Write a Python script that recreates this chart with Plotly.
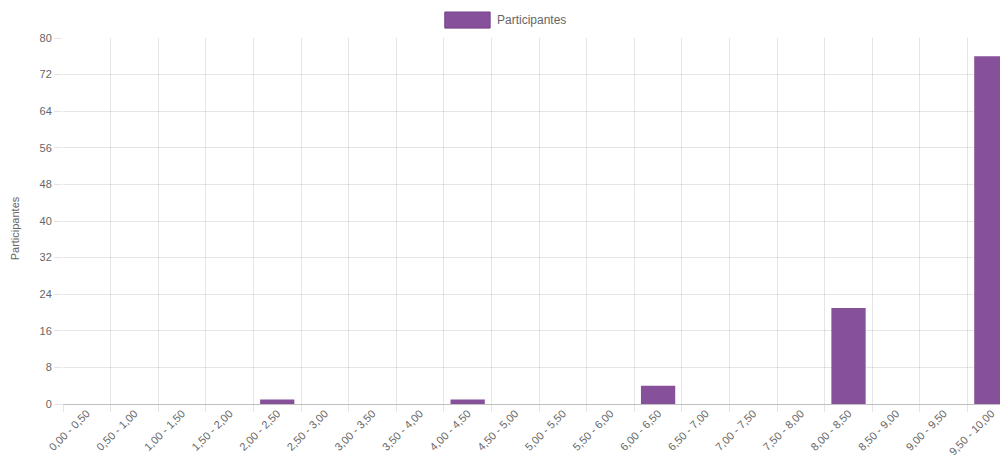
import plotly.graph_objects as go

categorias = [
    "0,00 - 0,50", "0,50 - 1,00", "1,00 - 1,50", "1,50 - 2,00", "2,00 - 2,50",
    "2,50 - 3,00", "3,00 - 3,50", "3,50 - 4,00", "4,00 - 4,50", "4,50 - 5,00",
    "5,00 - 5,50", "5,50 - 6,00", "6,00 - 6,50", "6,50 - 7,00", "7,00 - 7,50",
    "7,50 - 8,00", "8,00 - 8,50", "8,50 - 9,00", "9,00 - 9,50", "9,50 - 10,00",
]
participantes = [0, 0, 0, 0, 1, 0, 0, 0, 1, 0, 0, 0, 4, 0, 0, 0, 21, 0, 0, 76]
y_ticks = [0, 8, 16, 24, 32, 40, 48, 56, 64, 72, 80]

fill = "rgb(134,80,154)"
border = "rgb(118,64,138)"
grey = "#666666"
font = "Liberation Sans, Arial, sans-serif"

fig = go.Figure()
fig.add_trace(go.Bar(
    x=categorias,
    y=participantes,
    name="Participantes",
    marker=dict(color=fill, line=dict(color=border, width=0)),
    width=0.72,
))

# legenda estilo Chart.js
fig.add_shape(
    type="rect", xref="paper", yref="paper",
    x0=0.404, x1=0.452, y0=1.027, y1=1.071,
    fillcolor=fill, line=dict(color=border, width=1),
)
fig.add_annotation(
    text="Participantes", xref="paper", yref="paper",
    x=0.457, y=1.049, xanchor="left", yanchor="middle",
    showarrow=False, font=dict(size=12, color=grey, family=font),
)
# titulo do eixo y
fig.add_annotation(
    text="Participantes", xref="paper", yref="paper",
    x=0, y=0.48, xshift=-48, xanchor="center", yanchor="middle",
    textangle=-90, showarrow=False,
    font=dict(size=11, color=grey, family=font),
)

# a página tem 8px de margem no body
fig.update_layout(
    width=1000, height=462,
    margin=dict(l=55, r=0, t=30, b=66),
    paper_bgcolor="white", plot_bgcolor="white",
    showlegend=False,
    font=dict(family=font, size=10, color=grey),
)
fig.update_xaxes(
    type="category",
    range=[-0.5, 19.35],
    tickangle=-45,
    tickson="boundaries",
    showgrid=True, gridcolor="rgba(0,0,0,0.1)",
    ticks="outside", ticklen=7, tickcolor="rgba(0,0,0,0.1)",
    tickfont=dict(size=11, color=grey),
    showline=False,
)
fig.update_yaxes(
    range=[0, 80],
    tickvals=y_ticks,
    showgrid=True, gridcolor="rgba(0,0,0,0.1)",
    zeroline=True, zerolinecolor="rgba(0,0,0,0.25)", zerolinewidth=1,
    ticks="outside", ticklen=8, tickcolor="rgba(0,0,0,0.1)",
    tickfont=dict(size=11, color=grey),
)

fig.write_html("out.html")
